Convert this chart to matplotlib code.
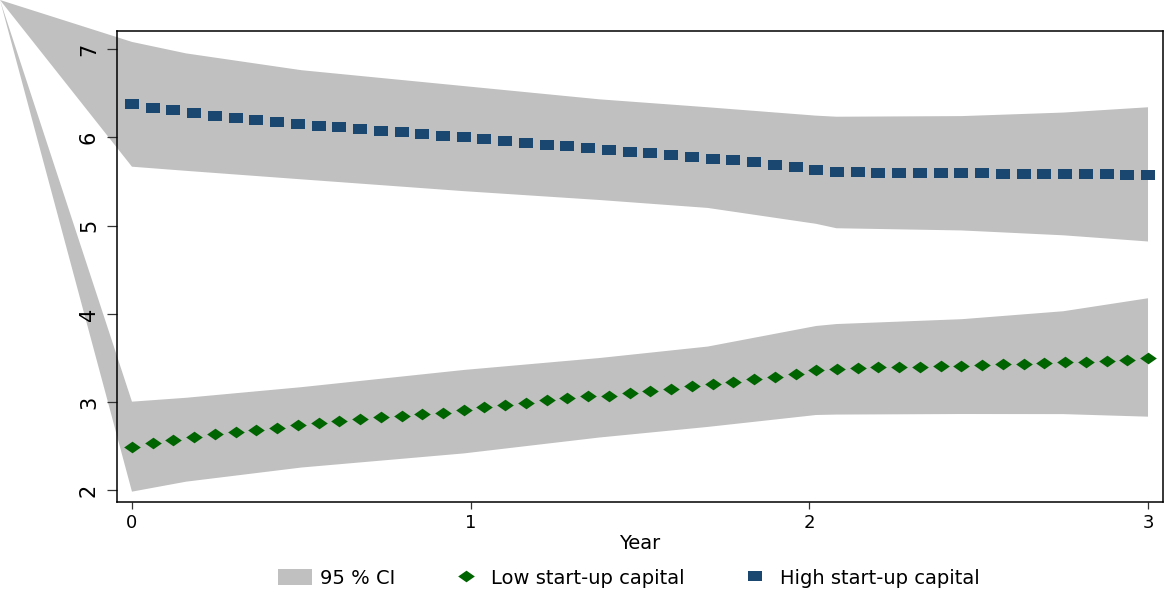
import numpy as np
import matplotlib.pyplot as plt
from matplotlib.patches import Patch
from matplotlib.lines import Line2D

plt.rcParams['font.family'] = 'DejaVu Sans'

# 50 evaluation points over three years
year = np.linspace(0, 3, 50)

low_cap = [2.498, 2.537, 2.570, 2.608, 2.638, 2.664, 2.687, 2.713, 2.740, 2.763,
           2.789, 2.810, 2.830, 2.849, 2.865, 2.883, 2.910, 2.940, 2.970, 2.996,
           3.020, 3.046, 3.070, 3.073, 3.100, 3.128, 3.154, 3.180, 3.207, 3.234,
           3.262, 3.290, 3.317, 3.360, 3.378, 3.387, 3.394, 3.400, 3.404, 3.410,
           3.415, 3.420, 3.427, 3.434, 3.441, 3.450, 3.460, 3.470, 3.483, 3.500]

high_cap = [6.374, 6.336, 6.306, 6.274, 6.245, 6.220, 6.196, 6.172, 6.150, 6.130,
            6.111, 6.092, 6.073, 6.055, 6.038, 6.020, 5.999, 5.978, 5.958, 5.937,
            5.916, 5.896, 5.877, 5.858, 5.838, 5.819, 5.800, 5.780, 5.759, 5.739,
            5.716, 5.690, 5.664, 5.634, 5.605, 5.603, 5.601, 5.599, 5.597, 5.595,
            5.593, 5.591, 5.589, 5.587, 5.585, 5.583, 5.581, 5.579, 5.577, 5.574]

# confidence bands
ci_year = [0, 0.16, 0.5, 0.98, 1.38, 1.7, 2.02, 2.08, 2.45, 2.75, 3.0]
high_hi = [7.08, 6.95, 6.76, 6.58, 6.43, 6.34, 6.245, 6.233, 6.24, 6.28, 6.34]
high_lo = [5.667, 5.62, 5.524, 5.39, 5.29, 5.20, 5.02, 4.97, 4.945, 4.89, 4.82]
low_hi = [3.006, 3.05, 3.17, 3.365, 3.50, 3.63, 3.863, 3.885, 3.94, 4.03, 4.177]
low_lo = [1.987, 2.10, 2.26, 2.42, 2.60, 2.72, 2.855, 2.86, 2.866, 2.865, 2.836]

labels = ["95 % CI", "Low start-up capital", "High start-up capital"]

band = "#c0c0c0"
green = "#006400"
navy = "#1a476f"
diamond = [(-1, 0), (0, 0.7), (1, 0), (0, -0.7)]
square = [(-1, -0.7), (1, -0.7), (1, 0.7), (-1, 0.7)]

fig = plt.figure(figsize=(11.65, 5.9), dpi=100)
ax = fig.add_axes([0.1004, 0.1492, 0.8979, 0.7983])
ax.set_xlim(-0.0443, 3.0443)
ax.set_ylim(1.870, 7.204)

# the bands are anchored in the figure corner, as in the original export
corner = ax.transData.inverted().transform(fig.transFigure.transform((0, 1)))
for lo, hi in [(high_lo, high_hi), (low_lo, low_hi)]:
    xs = [corner[0]] + ci_year + ci_year[::-1]
    ys = [corner[1]] + hi + lo[::-1]
    ax.fill(xs, ys, color=band, lw=0, clip_on=False, zorder=1)

ax.plot(year, low_cap, ls="none", marker=diamond, ms=12, color=green, mew=0, zorder=3)
ax.plot(year, high_cap, ls="none", marker=square, ms=9.4, color=navy, mew=0, zorder=3)

ax.set_xticks([0, 1, 2, 3])
ax.set_yticks([2, 3, 4, 5, 6, 7])
ax.tick_params(axis="x", length=5, width=0.9, color="#333333", labelsize=13, pad=4)
ax.tick_params(axis="y", length=7, width=0.9, color="#333333", labelsize=15, pad=6,
               labelrotation=90)
for t in ax.get_yticklabels():
    t.set_verticalalignment("center")
for s in ax.spines.values():
    s.set_linewidth(1.1)
    s.set_color("black")
ax.set_xlabel("Year", fontsize=14, labelpad=1)

handles = [Patch(facecolor=band, edgecolor="none"),
           Line2D([], [], ls="none", marker=diamond, ms=12, color=green, mew=0),
           Line2D([], [], ls="none", marker=square, ms=10, color=navy, mew=0)]
fig.legend(handles, labels, loc="center left", bbox_to_anchor=(0.2386, 0.0203),
           ncol=3, frameon=False, fontsize=14, handlelength=1.75, handleheight=0.93,
           handletextpad=0.41, columnspacing=2.75, borderpad=0, borderaxespad=0)

fig.savefig("out.png", dpi=100)
